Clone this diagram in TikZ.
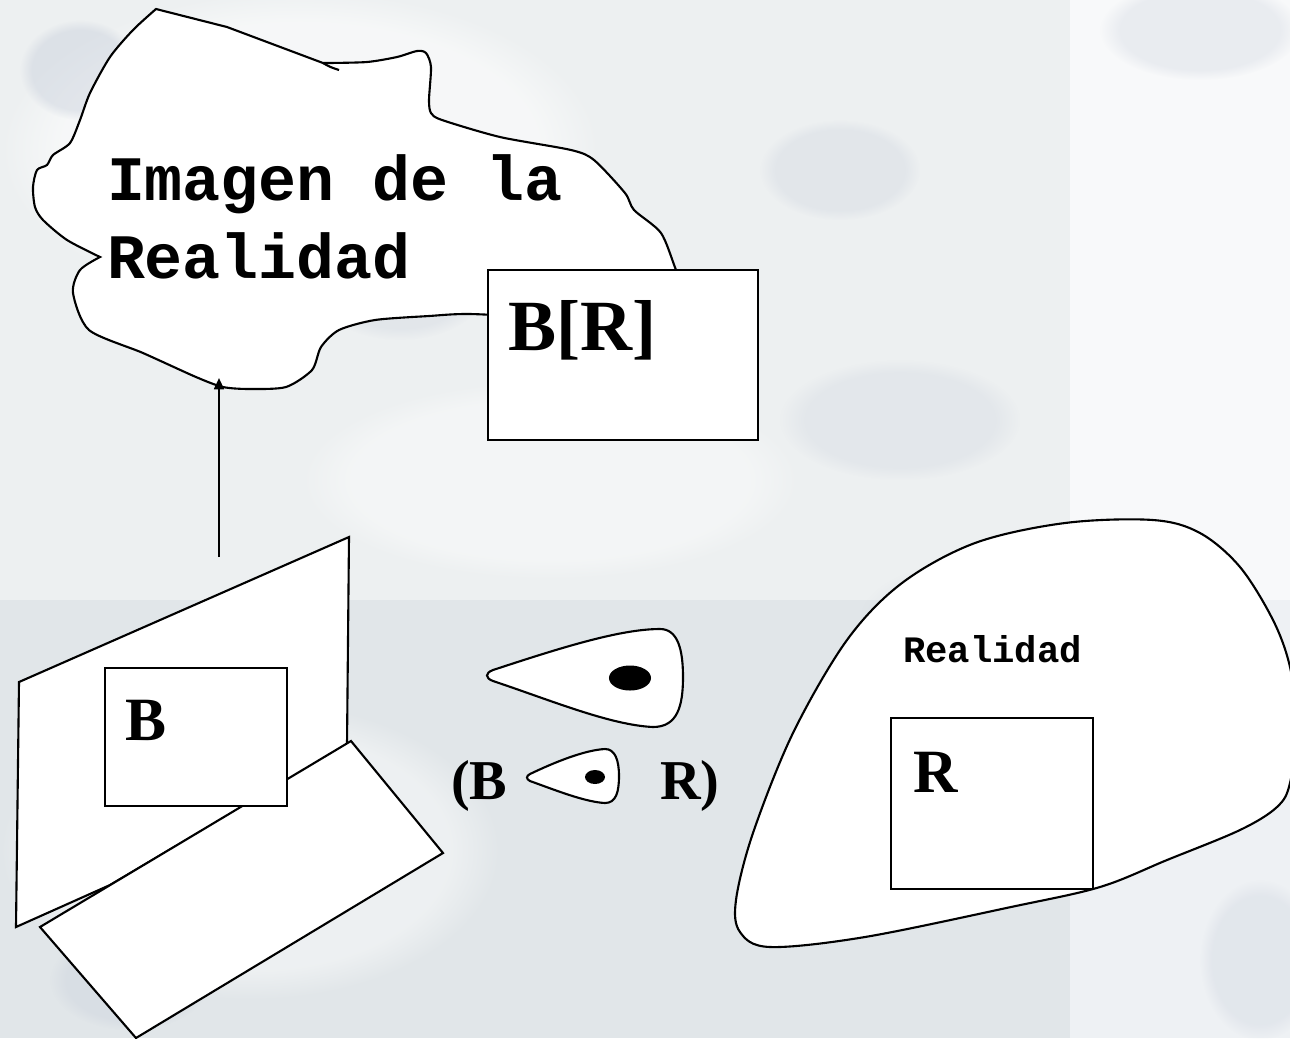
\documentclass[tikz,border=0pt]{standalone}
\usepackage{fontspec}
\newfontfamily\courfont{Liberation Mono}
\newfontfamily\timesfont{Liberation Serif}
\usetikzlibrary{arrows.meta,fadings}
\definecolor{bgtop}{HTML}{EDF0F1}
\definecolor{bglow}{HTML}{E1E6E9}
\definecolor{bgright}{HTML}{F8F9FA}
\definecolor{bgrightlow}{HTML}{EEF1F4}
\definecolor{bgspot}{HTML}{C9D0DC}
\definecolor{bglight}{HTML}{FAFBFB}
\tikzset{
  outline/.style={draw=black, line width=0.6pt, fill=white},
  boxline/.style={draw=black, line width=0.7pt, fill=white},
  lbl/.style={inner sep=0pt, outer sep=0pt, anchor=base west},
  monolbl/.style={lbl, font=\courfont\bfseries\fontsize{18}{22}\selectfont},
  smallmono/.style={lbl, font=\courfont\bfseries\fontsize{10.6}{13}\selectfont},
  serifbig/.style={lbl, font=\timesfont\bfseries\fontsize{20.5}{24}\selectfont},
  serifmid/.style={lbl, font=\timesfont\bfseries\fontsize{17.5}{21}\selectfont},
  serifsm/.style={lbl, font=\timesfont\bfseries\fontsize{16}{19}\selectfont},
  softspot/.style={fill=bgspot, path fading=circle with fuzzy edge 20 percent},
  softlight/.style={fill=bglight, path fading=circle with fuzzy edge 20 percent},
  connector/.style={draw=black, line width=0.6pt, -{Triangle[length=3.2pt,width=2.8pt]}}
}
\begin{document}
\begin{tikzpicture}[x=0.01cm, y=-0.01cm]
\useasboundingbox (0,0) rectangle (1290,1038);
\clip (0,0) rectangle (1290,1038);
% background
\fill[bgtop] (0,0) rectangle (1070,600);
\fill[bglow] (0,600) rectangle (1070,1038);
\fill[bgright] (1070,0) rectangle (1290,600);
\fill[bgrightlow] (1070,600) rectangle (1290,1038);
\fill[softlight, opacity=0.7] (300,150) ellipse [x radius=3cm, y radius=1.6cm];
\fill[softlight, opacity=0.5] (550,480) ellipse [x radius=2.5cm, y radius=1cm];
\fill[softlight, opacity=0.5] (250,850) ellipse [x radius=2.5cm, y radius=1.5cm];
\fill[softspot, opacity=0.45] (80,70) ellipse [x radius=0.6cm, y radius=0.5cm];
\fill[softspot, opacity=0.3] (840,170) ellipse [x radius=0.8cm, y radius=0.5cm];
\fill[softspot, opacity=0.3] (400,280) ellipse [x radius=0.9cm, y radius=0.6cm];
\fill[softspot, opacity=0.25] (900,420) ellipse [x radius=1.2cm, y radius=0.6cm];
\fill[softspot, opacity=0.35] (130,980) ellipse [x radius=0.8cm, y radius=0.5cm];
\fill[softspot, opacity=0.3] (1200,30) ellipse [x radius=1cm, y radius=0.5cm];
\fill[softspot, opacity=0.3] (1260,960) ellipse [x radius=0.6cm, y radius=0.8cm];
\fill[softspot, opacity=0.2] (980,620) ellipse [x radius=1.2cm, y radius=0.6cm];

% cloud "Imagen de la Realidad"
\path[outline] (156,9) -- (227,27) -- (323,63)
 -- plot[smooth, tension=0.45] coordinates {
 (327,63) (367,62) (397,57) (417,51) (426,53) (431,67) (429,100)
 (431,113) (442,120) (500,137) (571,150) (594,160) (625,193) (634,210) (661,233)
 (676,270) (695,320) (560,318) (470,314) (429,316) (375,320) (339,330) (321,347)
 (312,370) (286,387) (250,389) (223,387) (196,377) (143,353) (89,330) (73,293)
 (80,270) (100,257)}
 -- plot[smooth, tension=0.45] coordinates {
 (100,257) (67,240) (43,220) (35,207) (33,187) (37,170) (47,165) (53,155) (70,143)
 (80,120) (90,93) (110,57) (133,30) (156,9)}
 -- cycle;
\draw[line width=0.6pt] (323,63) .. controls (330,67) .. (339,70);
\node[monolbl] (imgline1) at (107,200) {Imagen de la};
\node[monolbl] (imgline2) at (107,278) {Realidad};

% box B[R]
\path[boxline] (488,270) rectangle (758,440);
\node[serifbig] (brtext) at (508,350) {B[R]};

% arrow
\coordinate (arrowstart) at (219,557);
\coordinate (cloudbottom) at (219,378);
\draw[connector] (arrowstart) -- (cloudbottom);

% tilted panel
\path[outline] (19,682) -- (349,537) -- (347,745) -- (110,885) -- (16,927) -- cycle;
% lower rectangle
\path[outline] (40,927) -- (351,741) -- (443,853) -- (136,1038) -- cycle;
% box B
\path[boxline] (105,668) rectangle (287,806);
\node[serifmid] (btext) at (125,740) {B};

% big drop
\path[outline] (493,670) .. controls (560,648) and (620,629) .. (660,629)
  .. controls (678,629) and (683,650) .. (683,677)
  .. controls (683,705) and (678,727) .. (653,727)
  .. controls (610,725) and (550,700) .. (493,681)
  .. controls (485,678) and (485,673) .. cycle;
\fill[black] (630,678) ellipse [x radius=0.21cm, y radius=0.125cm];

% small drop
\path[outline] (530,774) .. controls (555,762) and (585,750) .. (605,749)
  .. controls (615,749) and (619,760) .. (619,776)
  .. controls (619,792) and (616,803) .. (605,803)
  .. controls (585,802) and (555,790) .. (530,781)
  .. controls (526,779) and (526,776) .. cycle;
\fill[black] (595,777) ellipse [x radius=0.1cm, y radius=0.07cm];
\node[serifsm] (parenB) at (451,799) {(B};
\node[serifsm] (parenR) at (660,799) {R)};

% right cloud "Realidad"
\path[outline] plot[smooth cycle, tension=0.55] coordinates {
 (1153,520) (1200,533) (1240,567) (1273,620) (1290,667) (1297,725) (1290,783)
 (1277,807) (1240,830) (1167,860) (1100,887) (1011,907) (865,937) (770,947)
 (740,932) (736,900) (753,833) (793,733) (847,640) (902,583) (975,543) (1065,523)};
\node[smallmono] (realtext) at (903,662) {Realidad};
\path[boxline] (891,718) rectangle (1093,889);
\node[serifmid] (rtext) at (913,792) {R};
\end{tikzpicture}
\end{document}
